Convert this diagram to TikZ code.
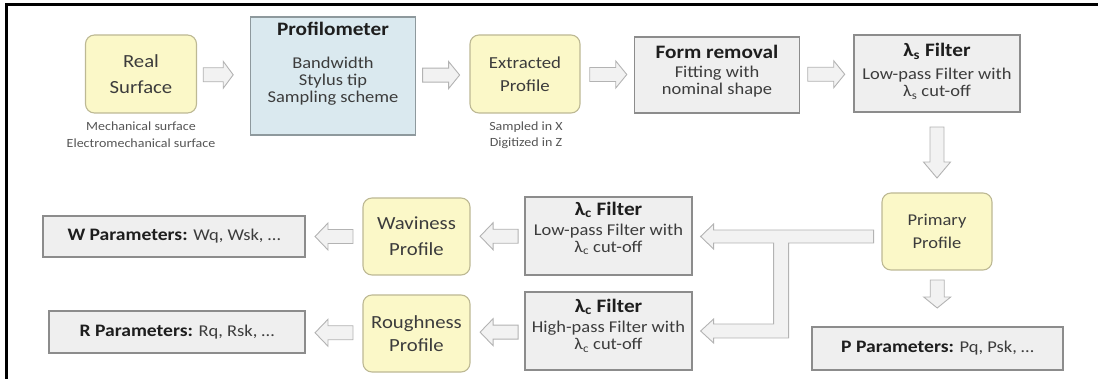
\documentclass[tikz,border=0pt]{standalone}
\usepackage{fontspec}
\setmainfont{Carlito}[FakeStretch=1.12]
\usetikzlibrary{calc}
\definecolor{yfill}{HTML}{FBF8C8}
\definecolor{yline}{HTML}{BDB994}
\definecolor{bfill}{HTML}{DAE9EF}
\definecolor{bline}{HTML}{8E999D}
\definecolor{gfill}{HTML}{EFEFEF}
\definecolor{gline}{HTML}{8C8C8C}
\definecolor{afill}{HTML}{F2F2F2}
\definecolor{aline}{HTML}{B3B3B3}
\definecolor{txt}{HTML}{3C3C3C}
\definecolor{btxt}{HTML}{1E1E1E}
\definecolor{stxt}{HTML}{555555}
\newcommand{\blkarrow}[4]{%
  \draw[blkarr, shift={#1}, rotate=#2]
    ({-(#3)/2},-7) -- ({(#3)/2-(#4)},-7) -- ({(#3)/2-(#4)},-13.5) --
    ({(#3)/2},0) -- ({(#3)/2-(#4)},13.5) -- ({(#3)/2-(#4)},7) --
    ({-(#3)/2},7) -- cycle;}
\newcommand{\ttl}[1]{{\fontsize{19}{20}\selectfont\bfseries\color{btxt}#1}}
\begin{document}
\begin{tikzpicture}[x=1pt,y=-1pt,
  ybox/.style={draw=yline, fill=yfill, line width=1.1pt, rounded corners=9pt,
    inner sep=0pt, align=center, text=txt},
  bbox/.style={draw=bline, fill=bfill, line width=1.1pt, inner sep=0pt},
  gbox/.style={draw=gline, fill=gfill, line width=1.2pt, inner sep=0pt},
  tb/.style={font=\fontsize{16.5}{17}\selectfont, text=txt, align=center, inner sep=0pt},
  small/.style={font=\fontsize{12.5}{16.5}\selectfont, text=stxt, align=center, inner sep=0pt},
  blkarr/.style={draw=aline, fill=afill, line width=0.9pt, line join=miter},
  frame/.style={line width=2.6pt, draw=black}]
\useasboundingbox (0,0) rectangle (1098,379);
\draw[frame] (6.5,379) -- (6.5,4.5) -- (1098,4.5);

% top row
\node[ybox, minimum width=111pt, minimum height=78pt,
  font=\fontsize{18.5}{26}\selectfont] (rs) at (141,74) {Real\\Surface};
\node[small] (rsl) at (141,134.5) {Mechanical surface\\Electromechanical surface};

\node[bbox, minimum width=165pt, minimum height=118pt] (pm) at (333,76) {};
\node[tb] (pmt) at (333,29) {\ttl{Profilometer}};
\node[tb] (pmb) at (333,81) {Bandwidth\\Stylus tip\\Sampling scheme};

\node[ybox, minimum width=110pt, minimum height=78pt,
  font=\fontsize{16.8}{22.5}\selectfont] (ex) at (525,74) {Extracted\\Profile};
\node[small] (exl) at (526,135) {Sampled in X\\Digitized in Z};

\node[gbox, minimum width=165pt, minimum height=76pt] (fr) at (717,75) {};
\node[tb] (frt) at (717,71) {\ttl{Form removal}\\[1.5pt]Fitting with\\nominal shape};

\node[gbox, minimum width=166pt, minimum height=77pt] (ls) at (937,73.5) {};
\node[tb] (lst) at (937,71.5) {\ttl{λ\textsubscript{s} Filter}\\[6pt]Low-pass Filter with\\λ\textsubscript{s} cut-off};

% right column
\node[ybox, minimum width=110pt, minimum height=77pt,
  font=\fontsize{16.5}{23}\selectfont] (pp) at (937,231.5) {Primary\\Profile};
\node[gbox, minimum width=251pt, minimum height=43pt, tb] (ppar) at (937.5,348.5)
  {{\fontsize{17.5}{18}\selectfont\bfseries\color{btxt}P Parameters:} Pq, Psk, …};

% filters
\node[gbox, minimum width=167pt, minimum height=78pt] (lcu) at (608.5,236) {};
\node[tb] (lcut) at (608.5,228.5) {\ttl{λ\textsubscript{c} Filter}\\[3pt]Low-pass Filter with\\λ\textsubscript{c} cut-off};
\node[gbox, minimum width=167pt, minimum height=78pt] (lcl) at (608.5,331) {};
\node[tb] (lclt) at (608.5,325.5) {\ttl{λ\textsubscript{c} Filter}\\[3.5pt]High-pass Filter with\\λ\textsubscript{c} cut-off};

% profiles
\node[ybox, minimum width=107pt, minimum height=77pt,
  font=\fontsize{18.5}{26}\selectfont] (wav) at (416.5,236.5) {Waviness\\Profile};
\node[ybox, minimum width=107pt, minimum height=77pt,
  font=\fontsize{18.5}{23}\selectfont] (rgh) at (416.5,333.5) {Roughness\\Profile};

% parameter boxes
\node[gbox, minimum width=262pt, minimum height=41pt, tb] (wp) at (174,236.5)
  {{\fontsize{17.5}{18}\selectfont\bfseries\color{btxt}W Parameters:} Wq, Wsk, …};
\node[gbox, minimum width=256pt, minimum height=42pt, tb] (rp) at (177,332)
  {{\fontsize{17.5}{18}\selectfont\bfseries\color{btxt}R Parameters:} Rq, Rsk, …};

% block arrows
\blkarrow{($(rs.east)!0.4!(pm.west)$)}{0}{30}{10}
\blkarrow{($(pm.east)!0.47!(ex.west)$)}{0}{37}{11}
\blkarrow{($(ex.east)!0.52!(fr.west)$)}{0}{37}{11}
\blkarrow{($(fr.east)!0.49!(ls.west)$)}{0}{37}{11}
\blkarrow{($(ls.south)!0.5!(pp.north)$)}{-90}{51}{16}
\blkarrow{($(pp.south)!0.42!(ppar.north)$)}{-90}{28}{11}
\blkarrow{($(lcu.west)!0.47!(wav.east)$)}{180}{38}{13}
\blkarrow{($(lcl.west)!0.47!(rgh.east)$)}{180}{38}{13}
\blkarrow{($(wav.west)!0.5!(wp.east)$)}{180}{38}{13}
\blkarrow{($(rgh.west)!0.5!(rp.east)$)}{180}{38}{13}

% T-shaped split arrow from the primary profile to both filters
\draw[blkarr] ($(lcu.east)+(8,0.5)$) coordinate (tu)
  -- ++(13,-12.5) -- ++(0,6) -- ++(160,0) -- ++(0,13) -- ++(-85,0)
  -- ++(0,95) -- ++(-75,0) -- ++(0,5) -- ++(-13,-12) coordinate (tl)
  -- ++(13,-12) -- ++(0,5) -- ++(60,0) -- ++(0,-81) -- ++(-60,0)
  -- ++(0,6) -- cycle;
\end{tikzpicture}
\end{document}
